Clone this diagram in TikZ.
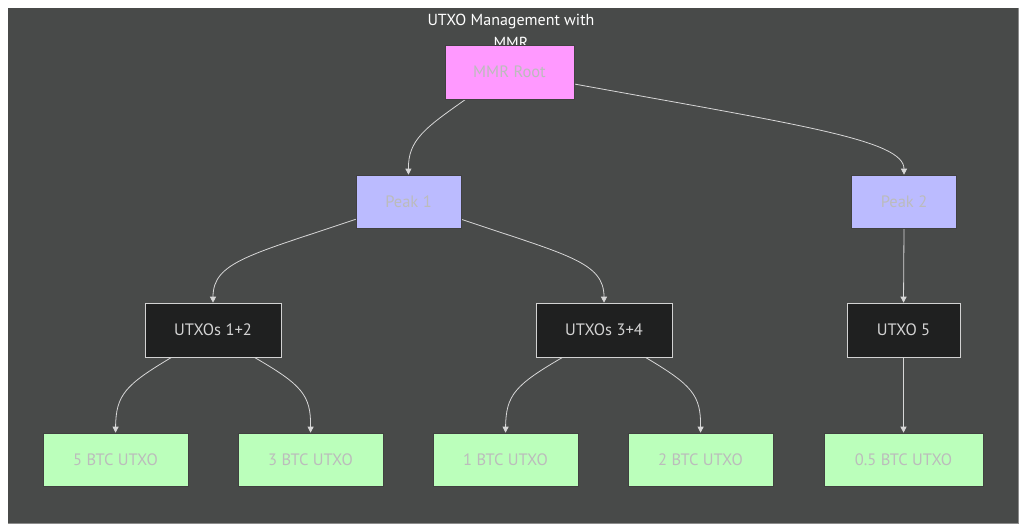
\documentclass[tikz,border=0pt]{standalone}
\usepackage{fontspec}
\setmainfont{PT Sans}
\usetikzlibrary{arrows.meta,backgrounds}
\definecolor{bgdark}{RGB}{72,74,73}
\definecolor{pinkfill}{RGB}{255,153,255}
\definecolor{bluefill}{RGB}{187,187,255}
\definecolor{greenfill}{RGB}{187,255,187}
\definecolor{darkfill}{RGB}{31,32,32}
\definecolor{lighttext}{RGB}{210,210,210}
\definecolor{pasteltext}{RGB}{188,188,188}
\definecolor{edgecol}{RGB}{215,215,215}
\tikzset{
  box/.style={rectangle, draw=black!75, line width=0.6pt, inner sep=0pt, font=\fontsize{16.5}{19}\selectfont, text=pasteltext},
  rootbox/.style={box, fill=pinkfill, minimum width=129pt, minimum height=54pt},
  peakbox/.style={box, fill=bluefill, minimum width=105pt, minimum height=53pt},
  midbox/.style={box, fill=darkfill, draw=lighttext, text=lighttext, minimum height=54pt},
  leafbox/.style={box, fill=greenfill, minimum width=145pt, minimum height=53pt},
  edge/.style={draw=edgecol, line width=0.8pt, -{Triangle[length=6pt,width=6pt]}},
}
\begin{document}
\begin{tikzpicture}[x=1pt,y=-1pt]
\useasboundingbox (0,0) rectangle (1027,532);
\node[text=white, font=\fontsize{16}{23}\selectfont, align=center] (title) at (511,31) {UTXO Management with\\MMR};
\node[rootbox] (root) at (509.5,72) {MMR Root};
\node[peakbox] (p1) at (408.5,201.5) {Peak 1};
\node[peakbox] (p2) at (904,201.5) {Peak 2};
\node[midbox, minimum width=136pt] (u12) at (213,330) {UTXOs 1+2};
\node[midbox, minimum width=136pt] (u34) at (604,330) {UTXOs 3+4};
\node[midbox, minimum width=113pt] (u5) at (903.5,330) {UTXO 5};
\node[leafbox] (l5) at (115.5,459.5) {5 BTC UTXO};
\node[leafbox] (l3) at (310.5,459.5) {3 BTC UTXO};
\node[leafbox] (l1) at (505.5,459.5) {1 BTC UTXO};
\node[leafbox] (l2) at (700.5,459.5) {2 BTC UTXO};
\node[leafbox, minimum width=159pt] (l05) at (903.5,459.5) {0.5 BTC UTXO};
\begin{pgfonlayer}{background}
\fill[white] (0,0) rectangle (1027,532);
\fill[bgdark] (8,8) rectangle (1018,523);
\draw[black!45, line width=0.6pt] (1018,8) -- (1018,523) -- (8,523);
\draw[edge] ([xshift=21pt]root.south west) .. controls (425,128) and (408,140) .. (p1.north);
\draw[edge] ([yshift=-12pt]root.east) .. controls (800,125) and (904,140) .. (p2.north);
\draw[edge] ([yshift=9pt]p1.south west) .. controls (250,255) and (213,262) .. (u12.north);
\draw[edge] ([yshift=9pt]p1.south east) .. controls (567,255) and (604,262) .. (u34.north);
\draw[edge] (p2.south) -- (u5.north);
\draw[edge] ([xshift=27pt]u12.south west) .. controls (125,385) and (116,395) .. (l5.north);
\draw[edge] ([xshift=-27pt]u12.south east) .. controls (302,385) and (311,395) .. (l3.north);
\draw[edge] ([xshift=27pt]u34.south west) .. controls (515,385) and (506,395) .. (l1.north);
\draw[edge] ([xshift=-27pt]u34.south east) .. controls (692,385) and (701,395) .. (l2.north);
\draw[edge] (u5.south) -- (l05.north);
\end{pgfonlayer}
\end{tikzpicture}
\end{document}
